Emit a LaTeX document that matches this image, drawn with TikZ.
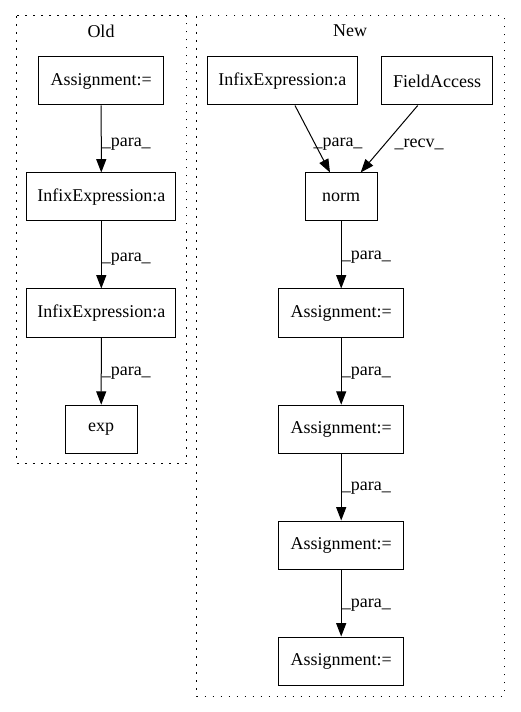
\documentclass[tikz,border=0pt]{standalone}
\usepackage{fontspec}
\setmainfont{Liberation Serif}
\usetikzlibrary{arrows.meta}
\begin{document}
\begin{tikzpicture}[x=0.75pt,y=-0.75pt,
  box/.style={draw, line width=0.75pt, inner sep=0pt, font=\fontsize{13.5}{16}\selectfont, minimum height=36pt},
  edge/.style={draw, line width=0.75pt, -{Triangle[length=10pt,width=7.5pt]}},
  lbl/.style={font=\fontsize{13.5}{16}\selectfont, inner sep=0pt},
  cluster/.style={draw, line width=0.75pt, dash pattern=on 1.2pt off 4.8pt}]
\useasboundingbox (0,0) rectangle (520,712);
% clusters
\draw[cluster] (16,16) rectangle (186.5,463);
\node[lbl] (oldlbl) at (101,31) {Old};
\draw[cluster] (196.7,16) rectangle (504,696);
\node[lbl] (newlbl) at (350,31) {New};
% Old nodes
\node[box, minimum width=93.75pt] (oa) at (101.2,81) {Assignment:=};
\node[box, minimum width=112pt] (oi1) at (101.3,197) {InfixExpression:a};
\node[box, minimum width=112pt] (oi2) at (101.3,313) {InfixExpression:a};
\node[box, minimum width=54pt] (oexp) at (101.2,429.2) {exp};
% New nodes
\node[box, minimum width=112.5pt] (ni) at (282.3,81) {InfixExpression:a};
\node[box, minimum width=83.25pt] (nf) at (437.2,81) {FieldAccess};
\node[box, minimum width=54pt] (norm) at (341.2,197) {norm};
\node[box, minimum width=94pt] (na1) at (341.2,313) {Assignment:=};
\node[box, minimum width=94pt] (na2) at (341.2,429.2) {Assignment:=};
\node[box, minimum width=94pt] (na3) at (341.2,545) {Assignment:=};
\node[box, minimum width=94pt] (na4) at (341.2,661) {Assignment:=};
% Old edges
\draw[edge] (oa) -- (oi1);
\draw[edge] (oi1) -- (oi2);
\draw[edge] (oi2) -- (oexp);
\node[lbl, anchor=west] (l1) at (101.5,144) {\_para\_};
\node[lbl, anchor=west] (l2) at (101.5,259) {\_para\_};
\node[lbl, anchor=west] (l3) at (101.5,373) {\_para\_};
% New edges
\draw[edge] ([xshift=9.5pt]ni.south) -- ([xshift=-8.4pt]norm.north);
\draw[edge] ([xshift=-14.6pt]nf.south) -- ([xshift=14.6pt]norm.north);
\node[lbl] (l4) at (338,144) {\_para\_};
\node[lbl] (l5) at (419,144) {\_recv\_};
\draw[edge] (norm) -- (na1);
\draw[edge] (na1) -- (na2);
\draw[edge] (na2) -- (na3);
\draw[edge] (na3) -- (na4);
\node[lbl, anchor=west] (l6) at (341.5,257) {\_para\_};
\node[lbl, anchor=west] (l7) at (341.5,373) {\_para\_};
\node[lbl, anchor=west] (l8) at (341.5,488) {\_para\_};
\node[lbl, anchor=west] (l9) at (341.5,605) {\_para\_};
\end{tikzpicture}
\end{document}
